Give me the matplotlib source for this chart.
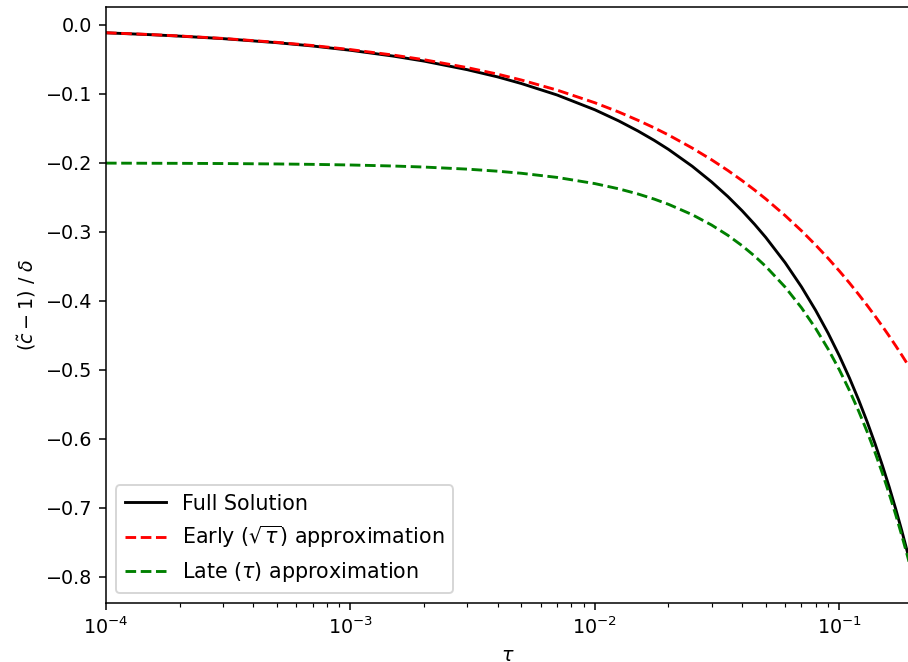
import numpy as np
import matplotlib
matplotlib.use("Agg")
import matplotlib.pyplot as plt

# sample times (log spaced by hand, denser where the curves bend)
tau = [1e-4, 1.5e-4, 2e-4, 3e-4, 5e-4, 7e-4, 1e-3, 1.5e-3, 2e-3, 3e-3,
       4e-3, 5e-3, 7e-3, 1e-2, 1.25e-2, 1.5e-2, 1.75e-2, 2e-2, 2.5e-2, 3e-2,
       3.5e-2, 4e-2, 4.5e-2, 5e-2, 6e-2, 7e-2, 8e-2, 9e-2, 0.1, 0.11,
       0.12, 0.13, 0.14, 0.15, 0.16, 0.17, 0.18, 0.19, 0.195]

# full solution
full = [-0.0114, -0.0140, -0.0162, -0.0198, -0.0257, -0.0305, -0.0367,
        -0.0452, -0.0524, -0.0648, -0.0753, -0.0849, -0.1015, -0.1230,
        -0.1390, -0.1537, -0.1674, -0.1804, -0.2048, -0.2275, -0.2488,
        -0.2693, -0.2890, -0.3080, -0.3446, -0.3797, -0.4138, -0.4470,
        -0.4797, -0.5119, -0.5439, -0.5756, -0.6072, -0.6387, -0.6701,
        -0.7016, -0.7331, -0.7647, -0.7806]

# early time, sqrt(tau) behaviour
early = [-0.0113, -0.0138, -0.0160, -0.0195, -0.0252, -0.0298, -0.0357,
         -0.0437, -0.0504, -0.0618, -0.0713, -0.0798, -0.0944, -0.1128,
         -0.1261, -0.1382, -0.1492, -0.1595, -0.1784, -0.1954, -0.2110,
         -0.2256, -0.2393, -0.2522, -0.2763, -0.2984, -0.3191, -0.3384,
         -0.3567, -0.3741, -0.3908, -0.4067, -0.4221, -0.4369, -0.4512,
         -0.4651, -0.4786, -0.4917, -0.4981]

# late time, linear in tau
late = [-0.2003, -0.2005, -0.2006, -0.2009, -0.2015, -0.2021, -0.2030,
        -0.2045, -0.2060, -0.2090, -0.2120, -0.2150, -0.2210, -0.2300,
        -0.2375, -0.2450, -0.2525, -0.2600, -0.2750, -0.2900, -0.3050,
        -0.3200, -0.3350, -0.3500, -0.3800, -0.4100, -0.4400, -0.4700,
        -0.5000, -0.5300, -0.5600, -0.5900, -0.6200, -0.6500, -0.6800,
        -0.7100, -0.7400, -0.7700, -0.7850]

fig = plt.figure(figsize=(908/138, 662/138), dpi=138)
ax = fig.add_axes([0.1167, 0.0891, 0.8858, 0.9003])

ax.plot(tau, full, 'k-', label='Full Solution')
ax.plot(tau, early, 'r--', label=r'Early ($\sqrt{\tau}$) approximation')
ax.plot(tau, late, 'g--', label=r'Late ($\tau$) approximation')

ax.set_xscale('log')
ax.set_xlim(1e-4, 0.195)
ax.set_ylim(-0.838, 0.026)
ax.set_xlabel(r'$\tau$')
ax.set_ylabel(r'$(\tilde{c} - 1)\ /\ \delta$')
ax.legend(loc='lower left', fontsize=10.75)

fig.savefig('out.png', dpi=138)
